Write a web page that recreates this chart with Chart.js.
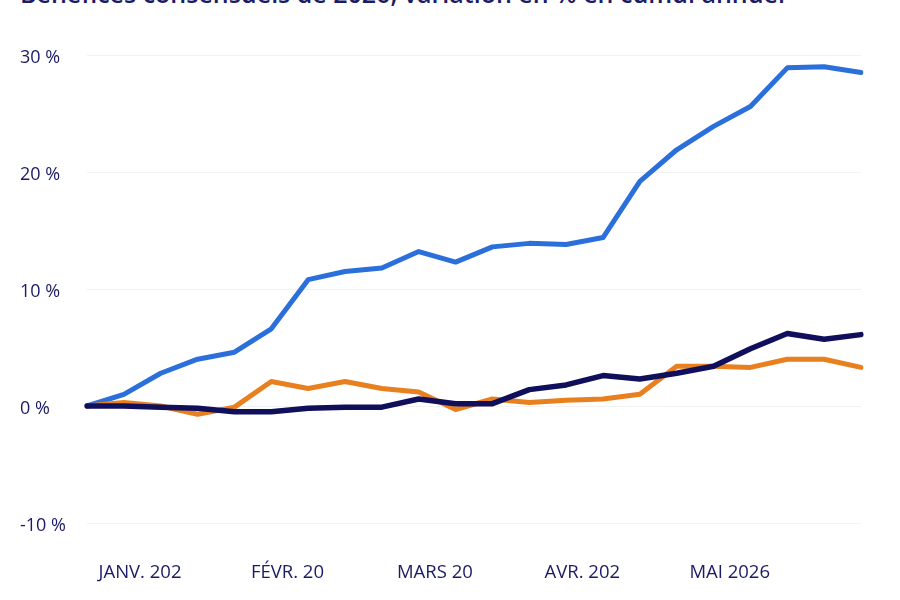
<!DOCTYPE html>
<html>
<head>
<meta charset="utf-8">
<script src="https://cdn.jsdelivr.net/npm/chart.js@4"></script>
<style>
  html, body { margin: 0; padding: 0; background: #ffffff; }
  #wrap { position: relative; width: 900px; height: 600px; overflow: hidden; }
  #title { position: absolute; left: 20px; top: -24px; font-family: 'Open Sans', sans-serif; font-size: 25px; font-weight: 600; color: #1b1b66; white-space: nowrap; }
  canvas { position: absolute; left: 0; top: 0; }
</style>
</head>
<body>
<div id="wrap">
  <div id="title">Bénéfices consensuels de 2026, variation en % en cumul annuel</div>
  <canvas id="c" width="900" height="600"></canvas>
</div>
<script>
const weeks = ['S0','S1','S2','S3','S4','S5','S6','S7','S8','S9','S10','S11','S12','S13','S14','S15','S16','S17','S18','S19','S20','S21'];
const monthLabels = ['JANV. 202', 'FÉVR. 20', 'MARS 20', 'AVR. 202', 'MAI 2026'];
const yTicks = [-10, 0, 10, 20, 30];

const seriesBlue = [0, 1.0, 2.8, 4.0, 4.6, 6.6, 10.8, 11.5, 11.8, 13.2, 12.3, 13.6, 13.9, 13.8, 14.4, 19.2, 21.9, 23.9, 25.6, 28.9, 29.0, 28.5];
const seriesNavy = [0, 0, -0.1, -0.2, -0.5, -0.5, -0.2, -0.1, -0.1, 0.6, 0.2, 0.2, 1.4, 1.8, 2.6, 2.3, 2.8, 3.4, 4.9, 6.2, 5.7, 6.1];
const seriesOrange = [0, 0.3, 0, -0.7, -0.1, 2.1, 1.5, 2.1, 1.5, 1.2, -0.3, 0.6, 0.3, 0.5, 0.6, 1.0, 3.4, 3.4, 3.3, 4.0, 4.0, 3.3];

const navyText = '#1b1b66';

new Chart(document.getElementById('c'), {
  type: 'line',
  data: {
    labels: weeks,
    datasets: [
      { data: seriesNavy, borderColor: '#0f0f5c', borderWidth: 5.5, pointRadius: 0, tension: 0, borderJoinStyle: 'round', borderCapStyle: 'round' },
      { data: seriesOrange, borderColor: '#e8801f', borderWidth: 5, pointRadius: 0, tension: 0, borderJoinStyle: 'round', borderCapStyle: 'round' },
      { data: seriesBlue, borderColor: '#2b6fdb', borderWidth: 5, pointRadius: 0, tension: 0, borderJoinStyle: 'round', borderCapStyle: 'round' }
    ]
  },
  options: {
    responsive: false,
    animation: false,
    devicePixelRatio: 1,
    layout: { padding: { left: 20, right: 32, top: 55, bottom: 0 } },
    plugins: { legend: { display: false }, tooltip: { enabled: false }, title: { display: false } },
    scales: {
      x: {
        type: 'category',
        offset: false,
        grid: { display: false, drawTicks: false },
        border: { display: false },
        afterFit: (s) => { s.height = 77; },
        ticks: {
          autoSkip: false,
          maxRotation: 0,
          padding: 39,
          labelOffset: 53,
          color: navyText,
          font: { family: "'Open Sans', sans-serif", size: 18.5 },
          callback: (v, i) => (i % 4 === 0 && monthLabels[i / 4] !== undefined) ? monthLabels[i / 4] : ''
        }
      },
      y: {
        min: -10,
        max: 30,
        afterFit: (s) => { s.width = 67; },
        afterBuildTicks: (s) => { s.ticks = yTicks.map(v => ({ value: v })); },
        grid: { color: '#f2f2f2', lineWidth: 1, drawTicks: false },
        border: { display: false },
        ticks: {
          crossAlign: 'far',
          padding: 10,
          labelOffset: 3,
          color: navyText,
          font: { family: "'Open Sans', sans-serif", size: 18 },
          callback: (v) => v + ' %'
        }
      }
    }
  }
});
</script>
</body>
</html>
